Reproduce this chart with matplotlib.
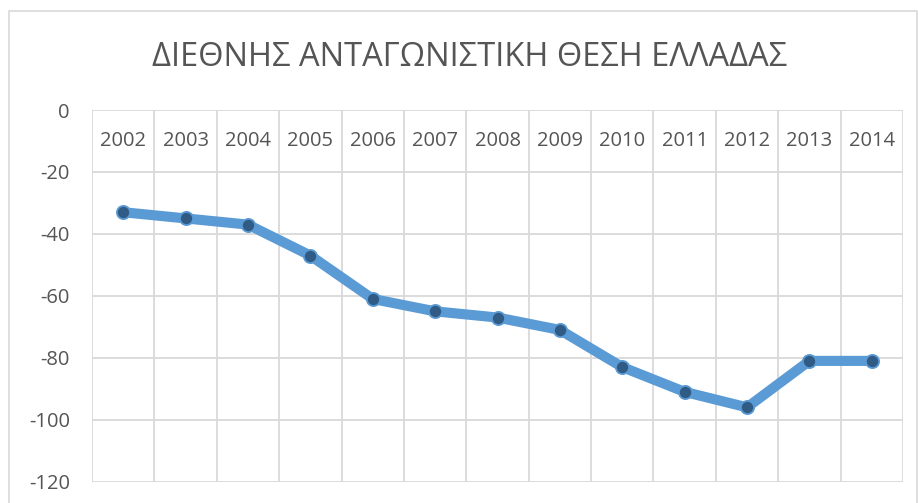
import matplotlib.pyplot as plt
from matplotlib.patches import Rectangle
import numpy as np

# data
years = ['2002', '2003', '2004', '2005', '2006', '2007', '2008',
         '2009', '2010', '2011', '2012', '2013', '2014']
rank = [-33, -35, -37, -47, -61, -65, -67, -71, -83, -91, -96, -81, -81]
yticks = [0, -20, -40, -60, -80, -100, -120]

plt.rcParams['font.family'] = ['Open Sans', 'DejaVu Sans']
GRID = '#d9d9d9'
TXT = '#555555'

fig = plt.figure(figsize=(9.18, 5.03), dpi=100)
W, H = 918, 503
ax = fig.add_axes([92 / W, 1 - 481.7 / H, (903 - 92) / W, (481.7 - 110) / H])

# chart border
fig.patches.append(Rectangle((9 / W, -0.05), (917 - 9) / W, 1.05 - 11 / H,
                             transform=fig.transFigure, fill=False,
                             edgecolor=GRID, lw=1.2))

x = np.arange(len(years))
ax.set_xlim(-0.5, len(years) - 0.5)
ax.set_ylim(-120, 0)

for yv in yticks:
    ax.axhline(yv, color=GRID, lw=1.3, zorder=0)
for xv in np.arange(-0.5, len(years), 1.0):
    ax.axvline(xv, color=GRID, lw=1.3, zorder=0)

ax.plot(x, rank, color='#5b9bd5', lw=7.3, solid_capstyle='round',
        solid_joinstyle='round', zorder=2)
ax.plot(x, rank, 'o', ms=9.5, mfc='#2f5b85', mec='#5b9bd5', mew=1.3, zorder=3)

# category labels sit just below the 0 axis
for i, yr in enumerate(years):
    ax.text(i, -10, yr, ha='center', va='center', fontsize=14.5, color=TXT)

ax.set_xticks([])
ax.set_yticks(yticks)
ax.set_yticklabels([str(v) for v in yticks], fontsize=14.5, color=TXT)
ax.tick_params(axis='y', length=0, pad=16)
for s in ax.spines.values():
    s.set_visible(False)

fig.text(470 / W, 1 - 57 / H, 'ΔΙΕΘΝΗΣ ΑΝΤΑΓΩΝΙΣΤΙΚΗ ΘΕΣΗ ΕΛΛΑΔΑΣ',
         ha='center', va='center', fontsize=23.5, color=TXT)

fig.savefig('out.png', dpi=100)
